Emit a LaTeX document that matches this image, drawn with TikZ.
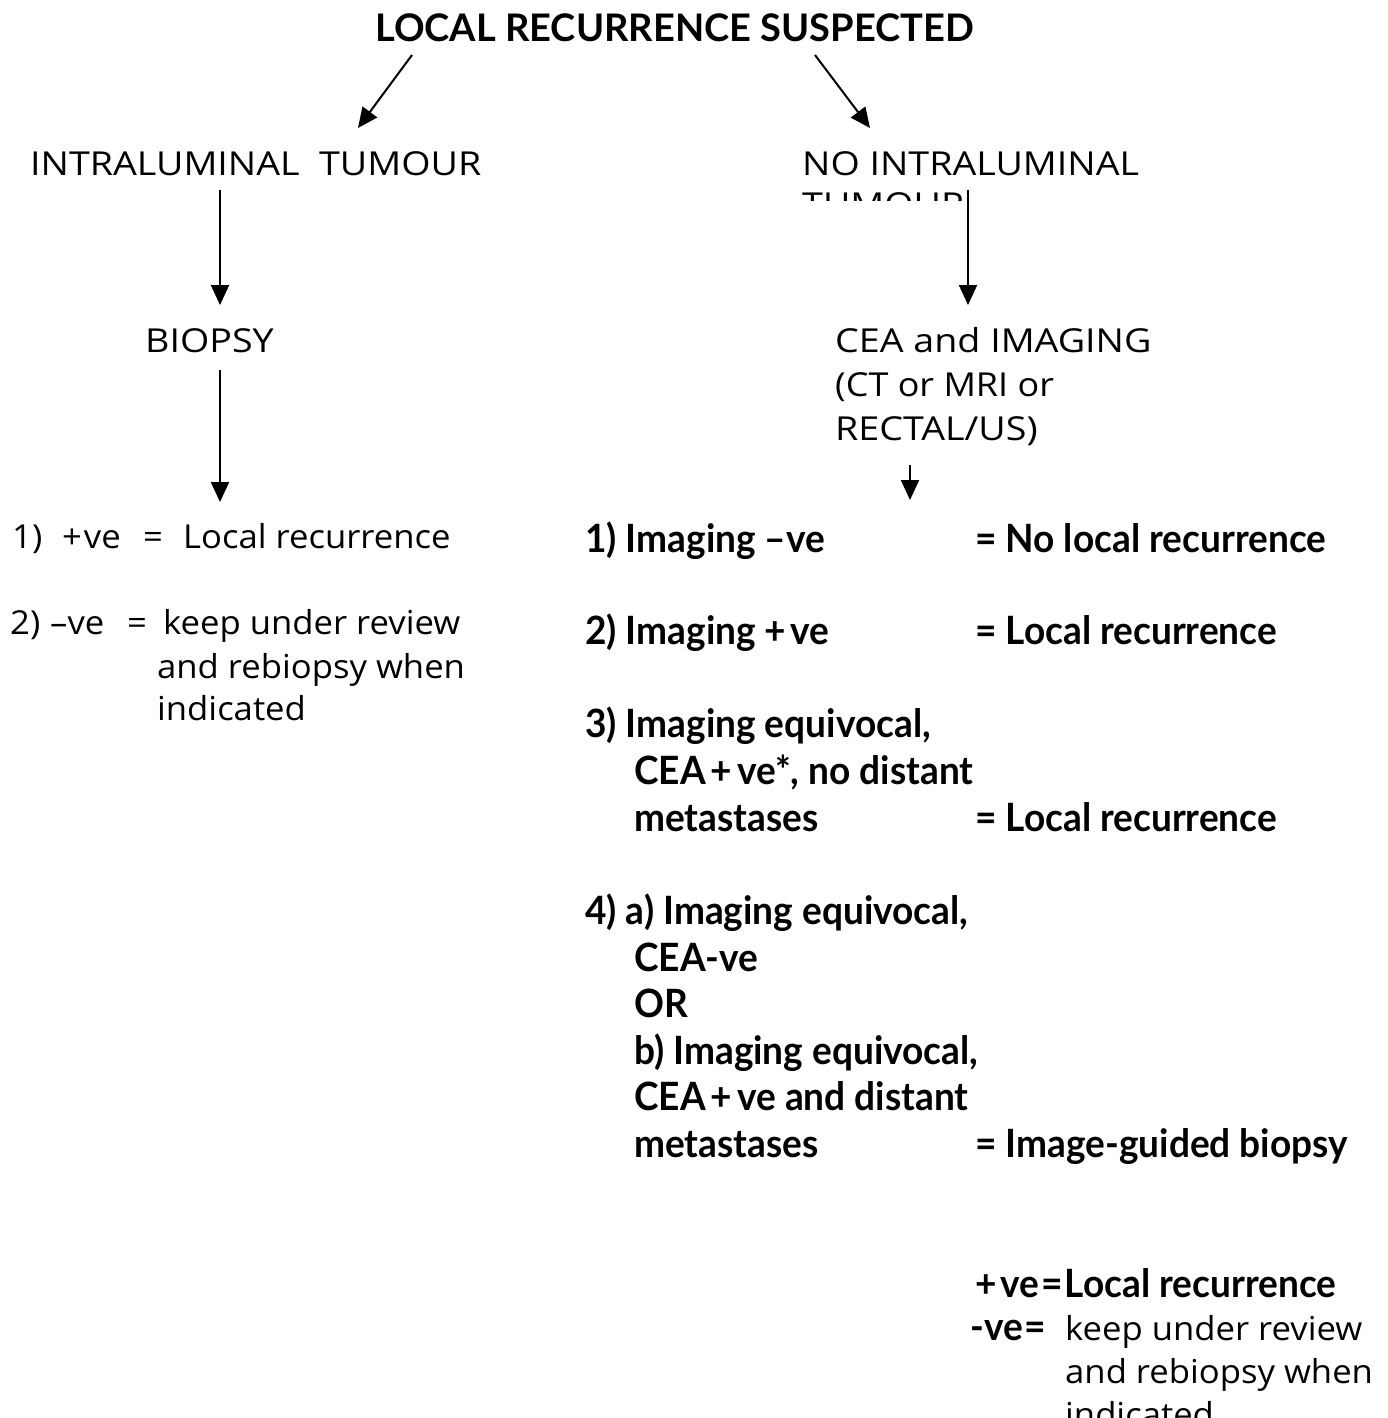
\documentclass[tikz,border=0pt]{standalone}
\usepackage{fontspec}
\setmainfont[FakeStretch=1.05]{Open Sans}
\newfontfamily\capsf[FakeStretch=1.14]{Open Sans}
\newfontfamily\midf[FakeStretch=1.09]{Open Sans}
\newfontfamily\condb[FakeStretch=0.95]{Lato}
\newfontfamily\titlef[FakeStretch=1.0]{Lato}
\usetikzlibrary{arrows.meta}
\begin{document}
\begin{tikzpicture}[x=1pt,y=-1pt,
  txt/.style={anchor=base west,inner sep=0pt,font=\fontsize{33}{40}\selectfont},
  ctxt/.style={anchor=base west,inner sep=0pt,font=\capsf\fontsize{33}{40}\selectfont},
  mtxt/.style={anchor=base west,inner sep=0pt,font=\midf\fontsize{33}{40}\selectfont},
  btxt/.style={anchor=base west,inner sep=0pt,font=\condb\bfseries\fontsize{39}{46}\selectfont},
  ttl/.style={anchor=base west,inner sep=0pt,font=\titlef\bfseries\fontsize{38}{44}\selectfont},
  arr/.style={line width=2pt,-{Triangle[length=20pt,width=18pt]}}]
\useasboundingbox (0,0) rectangle (1388,1418);
\clip (0,0) rectangle (1388,1418);
% headers
\node[ttl] (title) at (375,42) {LOCAL RECURRENCE SUSPECTED};
\node[ctxt] (intra) at (30,175) {INTRALUMINAL\ \ TUMOUR};
\node[ctxt] (nointra) at (802,175) {NO INTRALUMINAL};
\begin{scope}
  \clip (780,185) rectangle (1000,200);
  \node[ctxt] (tum) at (802,216) {TUMOUR};
\end{scope}
\node[ctxt] (biopsy) at (145,352) {BIOPSY};
\node[ctxt] (cea1) at (835,352) {CEA and IMAGING};
\node[mtxt] (cea2) at (835,396) {(CT or MRI or};
\node[ctxt] (cea3) at (835,440) {RECTAL/US)};
% left outcomes
\node[txt] (l1n) at (12,548) {1)};
\node[txt] (l1v) at (62,548) {+\kern2pt ve};
\node[txt] (l1e) at (143,548) {=};
\node[txt] (l1r) at (183,548) {Local recurrence};
\node[txt] (l2n) at (10,634) {2)};
\node[txt] (l2v) at (50,634) {–ve};
\node[txt] (l2e) at (127,634) {=};
\node[txt] (l2r) at (163,634) {keep under review};
\node[txt] (l2r2) at (157,678) {and rebiopsy when};
\node[txt] (l2r3) at (157,720) {indicated};
% right outcomes
\node[btxt] (r1) at (585,552) {1) Imaging –ve};
\node[btxt] (r1e) at (975,552) {= No local recurrence};
\node[btxt] (r2) at (585,644) {2) Imaging +\kern4pt ve};
\node[btxt] (r2e) at (975,644) {= Local recurrence};
\node[btxt] (r3) at (585,737) {3) Imaging equivocal,};
\node[btxt] (r3b) at (634,784) {CEA\kern5pt+\kern5pt ve*, no distant};
\node[btxt] (r3c) at (634,831) {metastases};
\node[btxt] (r3e) at (975,831) {= Local recurrence};
\node[btxt] (r4) at (585,924) {4) a) Imaging equivocal,};
\node[btxt] (r4b) at (634,971) {CEA-ve};
\node[btxt] (r4c) at (634,1017) {OR};
\node[btxt] (r4d) at (634,1064) {b) Imaging equivocal,};
\node[btxt] (r4f) at (634,1110) {CEA\kern5pt+\kern5pt ve and distant};
\node[btxt] (r4g) at (634,1157) {metastases};
\node[btxt] (r4e) at (975,1157) {= Image-guided biopsy};
% bottom
\node[btxt] (b1) at (975,1297) {+\kern4pt ve\kern2pt=\kern2pt Local recurrence};
\node[btxt] (b2) at (970,1340) {-ve\kern2pt=};
\node[txt] (b2r) at (1065,1340) {keep under review};
\node[txt] (b2r2) at (1065,1383) {and rebiopsy when};
\node[txt] (b2r3) at (1065,1426) {indicated};
% arrows
\draw[arr] ([shift={(37,13)}]title.base west) -- ([shift={(328,-47)}]intra.base west);
\draw[arr] ([shift={(440,13)}]title.base west) -- ([shift={(68,-47)}]nointra.base west);
\draw[arr] ([shift={(190,15)}]intra.base west) -- ([shift={(75,-47)}]biopsy.base west);
\draw[arr] ([shift={(166,15)}]nointra.base west) -- ([shift={(133,-47)}]cea1.base west);
\draw[arr] ([shift={(75,18)}]biopsy.base west) -- ([shift={(208,-46)}]l1n.base west);
\draw[arr] ([shift={(75,25)}]cea3.base west) -- ([shift={(325,-52)}]r1.base west);
\end{tikzpicture}
\end{document}
